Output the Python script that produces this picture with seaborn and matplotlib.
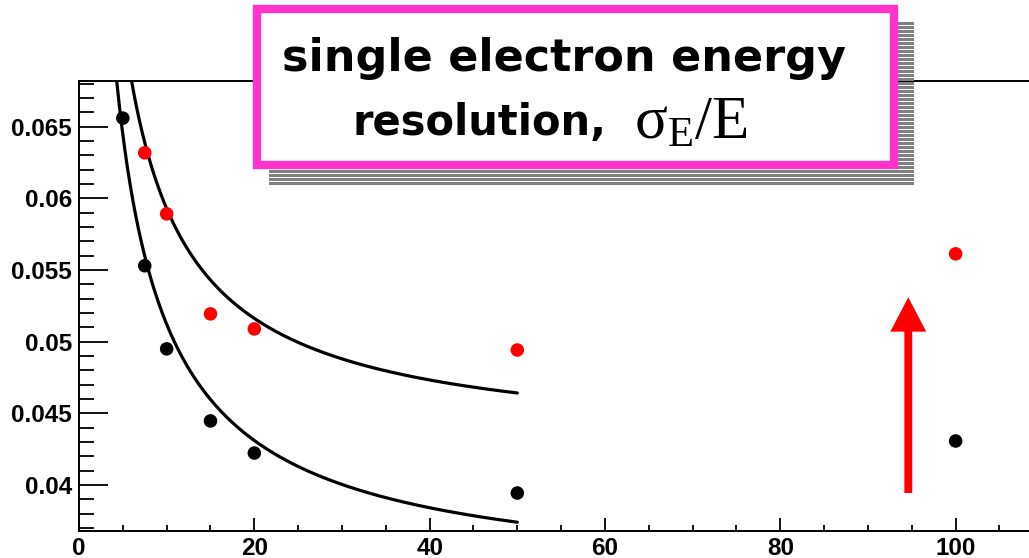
import numpy as np
import pandas as pd
import matplotlib
matplotlib.use("Agg")
import matplotlib.pyplot as plt
from matplotlib.patches import Rectangle
from matplotlib.ticker import MultipleLocator, FixedLocator
import seaborn as sns

# Beam energy (GeV) and measured resolution sigma_E/E
energy = [5, 7.5, 10, 15, 20, 50, 100]
res_black = [0.0656, 0.0553, 0.0495, 0.04447, 0.04223, 0.03944, 0.04307]
energy_red = [7.5, 10, 15, 20, 50, 100]
res_red = [0.06318, 0.05892, 0.05194, 0.05089, 0.04942, 0.05613]

# Fit parameters: sigma/E = sqrt(a^2/E + b^2)
fit_black = {"stochastic": 0.1237, "constant": 0.03306, "emin": 4.3, "emax": 50}
fit_red = {"stochastic": 0.1304, "constant": 0.0426, "emin": 6.0, "emax": 50}

# Arrow from / to (energy, resolution)
arrow_x = 94.6
arrow_y0 = 0.03944
arrow_y1 = 0.0531

x_ticks = [0, 20, 40, 60, 80, 100]
y_ticks = [0.04, 0.045, 0.05, 0.055, 0.06, 0.065]
y_ticklabels = ["0.04", "0.045", "0.05", "0.055", "0.06", "0.065"]

title_line1 = "single electron energy"
title_line2 = "resolution,"
title_math = r"$\mathregular{σ_{E}/E}$"

W, H = 1029, 558
sns.set_theme(style="ticks")
plt.rcParams["font.family"] = ["Liberation Sans", "DejaVu Sans"]
plt.rcParams["text.color"] = "black"
plt.rcParams["xtick.color"] = "black"
plt.rcParams["ytick.color"] = "black"
plt.rcParams["xtick.labelcolor"] = "black"
plt.rcParams["ytick.labelcolor"] = "black"

fig = plt.figure(figsize=(W / 100, H / 100), dpi=100)
ax = fig.add_axes([79 / W, 1 - 531 / H, 1 - 79 / W, (531 - 81) / H])


def curve(p):
    e = np.linspace(p["emin"], p["emax"], 300)
    return pd.DataFrame({"E": e, "res": np.sqrt(p["stochastic"] ** 2 / e + p["constant"] ** 2)})


for p in (fit_black, fit_red):
    sns.lineplot(data=curve(p), x="E", y="res", ax=ax, color="black", lw=2.3,
                 sort=False, zorder=2)

sns.scatterplot(x=energy, y=res_black, ax=ax, color="black", s=95,
                edgecolor="none", zorder=3)
sns.scatterplot(x=energy_red, y=res_red, ax=ax, color="red", s=95,
                edgecolor="none", zorder=3)

ax.set_xlim(0, 108.37)
ax.set_ylim(0.03679, 0.06819)
ax.set_xlabel("")
ax.set_ylabel("")

ax.xaxis.set_major_locator(FixedLocator(x_ticks))
ax.xaxis.set_minor_locator(MultipleLocator(5))
ax.yaxis.set_major_locator(FixedLocator(y_ticks))
ax.yaxis.set_minor_locator(MultipleLocator(0.001))
ax.set_xticklabels([str(t) for t in x_ticks])
ax.set_yticklabels(y_ticklabels)

ax.tick_params(axis="both", which="both", direction="in", color="black",
               labelcolor="black", width=1.3, labelsize=17.5)
ax.tick_params(axis="y", which="major", length=21, pad=5)
ax.tick_params(axis="y", which="minor", length=11)
ax.tick_params(axis="x", which="major", length=9.5, pad=4)
ax.tick_params(axis="x", which="minor", length=4.5)
for lab in ax.get_xticklabels() + ax.get_yticklabels():
    lab.set_fontweight("bold")

for side in ("left", "bottom", "top"):
    ax.spines[side].set_visible(True)
    ax.spines[side].set_linewidth(1.4)
    ax.spines[side].set_color("black")
ax.spines["right"].set_visible(False)

# Red upward arrow (vertical, so width is in energy units, head length in resolution units)
ax.arrow(arrow_x, arrow_y0, 0, arrow_y1 - arrow_y0, width=0.9, head_width=4.1,
         head_length=0.0024, length_includes_head=True, color="red", lw=0,
         zorder=4)


def fx(px):
    return px / W


def fy(py):
    return 1 - py / H


# Striped shadow behind the title box
sx0, sx1, sy0, sy1 = 269, 914, 22, 185
y = sy0
while y < sy1:
    fig.add_artist(Rectangle((fx(sx0), fy(y + 3)), (sx1 - sx0) / W, 3 / H,
                             transform=fig.transFigure, facecolor="#808080",
                             edgecolor="none", zorder=10))
    y += 4

# Title box with magenta frame
bx0, bx1, by0, by1 = 257, 894, 9, 165
fig.add_artist(Rectangle((fx(bx0), fy(by1)), (bx1 - bx0) / W, (by1 - by0) / H,
                         transform=fig.transFigure, facecolor="white",
                         edgecolor="#FF33CC", linewidth=6, zorder=11))

fig.text(fx(564), fy(58), title_line1, ha="center", va="center",
         fontsize=32, fontweight="bold", family="DejaVu Sans", color="black",
         zorder=12)
fig.text(fx(352), fy(123), title_line2, ha="left", va="center",
         fontsize=30, fontweight="bold", family="DejaVu Sans", color="black",
         zorder=12)
fig.text(fx(634), fy(124), title_math, ha="left", va="center",
         fontsize=44, family="Liberation Serif", color="black", zorder=12)

fig.savefig("out.png", dpi=100)
